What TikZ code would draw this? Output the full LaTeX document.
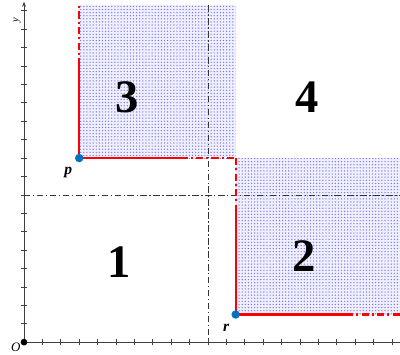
\documentclass[tikz,border=0pt]{standalone}
\usepackage{fontspec}
\setmainfont{Liberation Serif}
\usetikzlibrary{patterns.meta,arrows.meta}
\definecolor{ptblue}{RGB}{0,112,192}
\definecolor{shade}{RGB}{120,120,240}
\tikzset{
  axis/.style={draw=black!75, line width=0.7pt},
  tickmark/.style={draw=black!75, line width=0.6pt},
  guide/.style={draw=black!80, line width=0.6pt, dash pattern=on 5pt off 2pt on 1pt off 2pt},
  region/.style={fill=shade!12, postaction={pattern={Dots[distance=2.4pt, radius=0.55pt]}, pattern color=shade}},
  bound/.style={draw=red, line width=1.6pt},
  openbound/.style={draw=red, line width=1.6pt, dash pattern=on 5.5pt off 2.5pt on 1.5pt off 2.5pt},
  pt/.style={circle, fill=ptblue, inner sep=0pt, minimum size=6.5pt},
  bignum/.style={font=\fontsize{36}{36}\selectfont\bfseries},
  ptlabel/.style={font=\large\bfseries\itshape}
}
\begin{document}
\begin{tikzpicture}[x=0.5cm,y=0.5cm]
\useasboundingbox (-1.304,-0.652) rectangle (20.43,18.59);
% shaded regions
\path[region] (3,10) rectangle (11.5,18.3);
\path[region] (11.5,1.5) rectangle (20.43,10);
% guide lines
\coordinate (vt) at (10,18.3);
\coordinate (vb) at (10,0);
\coordinate (hl) at (0,8);
\coordinate (hr) at (20.43,8);
\draw[guide] (vt) -- (vb);
\draw[guide] (hl) -- (hr);
% axes
\coordinate (O) at (0,0);
\coordinate (xend) at (20.43,0);
\coordinate (yend) at (0,18.5);
\draw[axis] (O) -- (xend);
\draw[axis,-{Stealth[length=4pt,width=3pt]}] (O) -- (yend);
\foreach \i in {1,...,20} \draw[tickmark] (\i,-0.17) -- (\i,0.17);
\foreach \i in {1,...,18} \draw[tickmark] (-0.17,\i) -- (0.17,\i);
\fill (O) circle (2.6pt);
\node[font=\normalsize\itshape] (Olab) at (-0.45,-0.3) {O};
\node[font=\footnotesize\itshape, rotate=90] (ylab) at (-0.38,17.5) {y};
% boundaries
\coordinate (p) at (3,10);
\coordinate (r) at (11.5,1.5);
\coordinate (pu1) at (3,15.05);
\coordinate (pu2) at (3,18.3);
\coordinate (pr1) at (8.5,10);
\coordinate (pr2) at (11.5,10);
\coordinate (ru1) at (11.5,7.45);
\coordinate (ru2) at (11.5,10);
\coordinate (rr1) at (17.5,1.5);
\coordinate (rr2) at (20.43,1.5);
\draw[bound] (pu1) -- (p) -- (pr1);
\draw[openbound] (pu1) -- (pu2);
\draw[openbound] (pr1) -- (pr2);
\draw[bound] (ru1) -- (r) -- (rr1);
\draw[openbound] (ru2) -- (ru1);
\draw[openbound] (rr1) -- (rr2);
\node[pt] (pdot) at (p) {};
\node[pt] (rdot) at (r) {};
\node[ptlabel] (plab) at (2.4,9.2) {p};
\node[ptlabel] (rlab) at (10.98,0.75) {r};
% region numbers
\node[bignum] (n3) at (5.6,13.3) {3};
\node[bignum] (n4) at (15.4,13.3) {4};
\node[bignum] (n1) at (5.16,4.35) {1};
\node[bignum] (n2) at (15.2,4.67) {2};
\end{tikzpicture}
\end{document}
